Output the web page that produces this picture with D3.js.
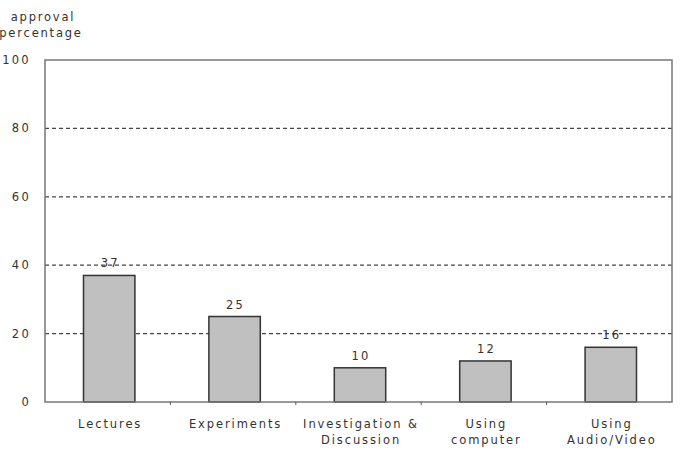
<!DOCTYPE html>
<html><head><meta charset="utf-8">
<script src="https://cdn.jsdelivr.net/npm/d3@7"></script>
<style>body{margin:0;background:#fff}text{font-family:"DejaVu Sans",sans-serif;fill:#333}</style>
</head><body>
<svg id="c" width="680" height="450"></svg>
<script>
const categories = [["Lectures"],["Experiments"],["Investigation &","Discussion"],["Using","computer"],["Using","Audio/Video"]];
const values = [37,25,10,12,16];
const yTicks = [0,20,40,60,80,100];

const svg = d3.select("#c");
const m = {l:45,r:672,t:60,b:402};
const x = d3.scaleBand().domain(d3.range(values.length)).range([m.l+1.5,m.r+1.5]).paddingInner(0.59).paddingOuter(0.295);
const xb = d3.scaleBand().domain(d3.range(values.length)).range([m.l,m.r]);
const y = d3.scaleLinear().domain([0,100]).range([m.b,m.t]);

// grid
svg.append("g").selectAll("line").data(yTicks.filter(d=>d>0&&d<100)).join("line")
  .attr("x1",m.l).attr("x2",m.r).attr("y1",d=>y(d)).attr("y2",d=>y(d))
  .attr("stroke","#444").attr("stroke-width",1.2).attr("stroke-dasharray","4,3");

// bars
svg.append("g").selectAll("rect").data(values).join("rect")
  .attr("x",(d,i)=>x(i)).attr("width",x.bandwidth())
  .attr("y",d=>y(d)).attr("height",d=>y(0)-y(d))
  .attr("fill","#c0c0c0").attr("stroke","#333").attr("stroke-width",1.5);

// frame
svg.append("rect").attr("x",m.l).attr("y",m.t).attr("width",m.r-m.l).attr("height",m.b-m.t)
  .attr("fill","none").attr("stroke","#777").attr("stroke-width",1.5);

// bottom tick marks at category boundaries
svg.append("g").selectAll("line").data(d3.range(1,values.length)).join("line")
  .attr("x1",i=>xb(i)).attr("x2",i=>xb(i)).attr("y1",m.b).attr("y2",m.b+3)
  .attr("stroke","#555").attr("stroke-width",1);

// y tick labels
svg.append("g").selectAll("text").data(yTicks).join("text")
  .attr("x",31).attr("y",d=>y(d)+4).attr("text-anchor","end")
  .attr("font-size",11.5).attr("letter-spacing",2.3).text(d=>d);

// value labels
svg.append("g").selectAll("text").data(values).join("text")
  .attr("x",(d,i)=>x(i)+x.bandwidth()/2+1).attr("y",d=>y(d)-8)
  .attr("text-anchor","middle").attr("font-size",11.5).attr("letter-spacing",2.2).text(d=>d);

// category labels
const cg = svg.append("g").selectAll("text").data(categories).join("text")
  .attr("text-anchor","middle").attr("font-size",11.5).attr("letter-spacing",1.9);
cg.each(function(lines,i){
  d3.select(this).selectAll("tspan").data(lines).join("tspan")
    .attr("x",x(i)+x.bandwidth()/2+1).attr("y",(d,j)=>428+j*16).text(d=>d);
});

// axis title
svg.append("text").attr("x",43).attr("y",21).attr("text-anchor","middle").attr("font-size",11.5).attr("letter-spacing",1.8).text("approval");
svg.append("text").attr("x",41).attr("y",37).attr("text-anchor","middle").attr("font-size",11.5).attr("letter-spacing",1.8).text("percentage");
</script>
</body></html>
